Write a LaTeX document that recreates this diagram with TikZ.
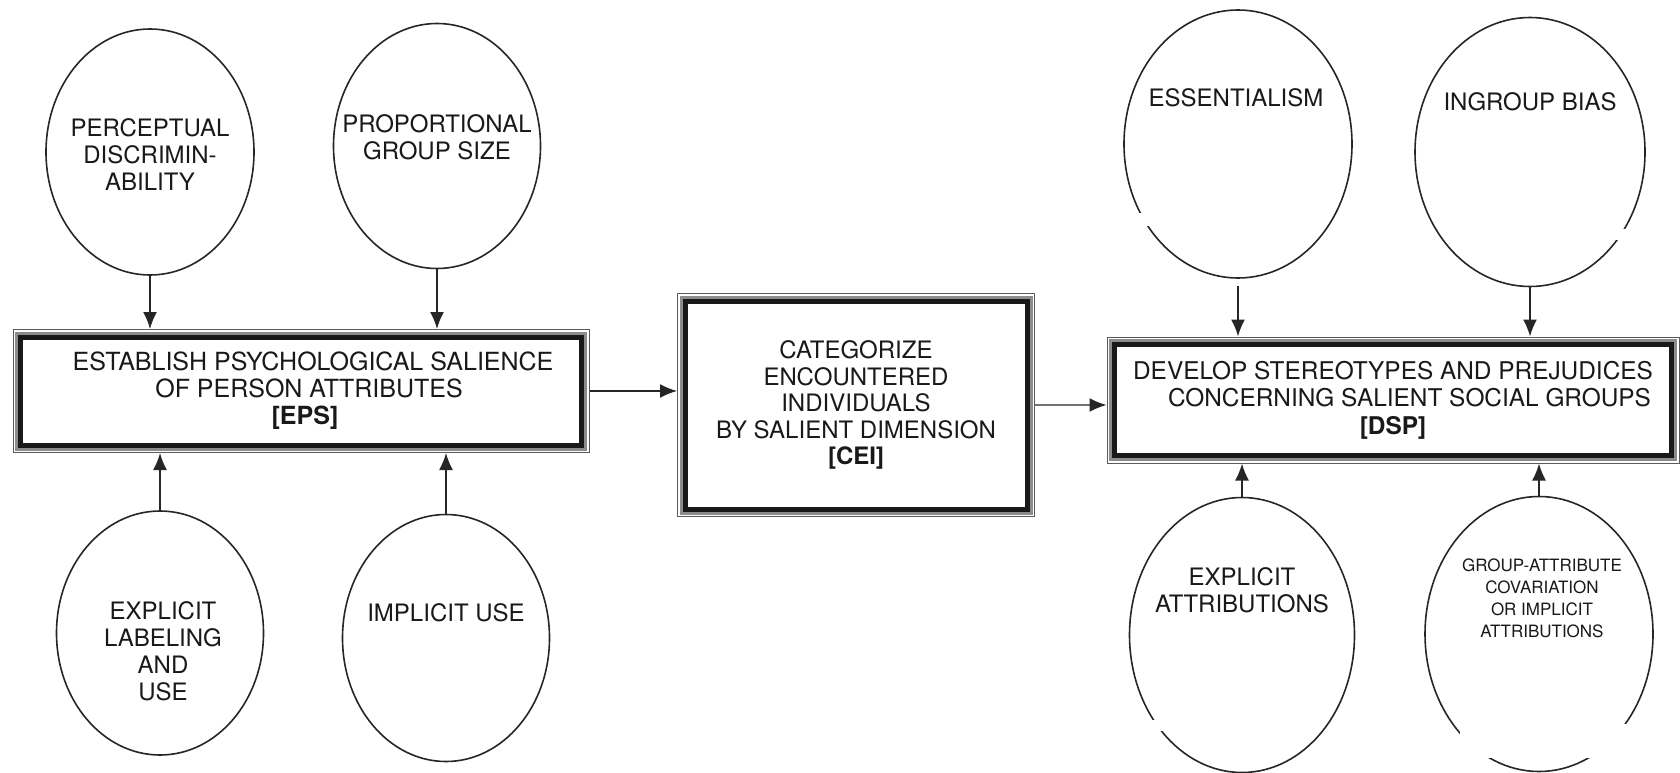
\documentclass[tikz,border=0pt]{standalone}
\usepackage{fontspec}
\setmainfont{TeX Gyre Heros}
\usetikzlibrary{arrows.meta,shapes.geometric}

\begin{document}
\begin{tikzpicture}[x=1pt, y=-1pt, >={Latex[length=17pt, width=14pt]},
  factor/.style={draw=black!85, line width=1.6pt, ellipse, inner sep=0pt, fill=white},
  factortext/.style={align=center, inner sep=0pt, text=black!90, font=\fontsize{24}{27}\selectfont},
  smalltext/.style={align=center, inner sep=0pt, text=black!90, font=\fontsize{17}{22}\selectfont},
  stage/.style={rectangle, draw=black!90, line width=5pt, fill=white, outer sep=8pt, align=center,
    text=black!90, font=\fontsize{25}{27}\selectfont,
    preaction={draw=black!65, line width=16pt},
    preaction={draw=white, line width=14pt},
    preaction={draw=black!45, line width=11pt}},
  link/.style={->, line width=1.6pt, draw=black!85}]
\useasboundingbox (0,0) rectangle (1680,773);
\node[stage, minimum width=561pt, minimum height=108pt] (eps) at (301,391) {\hspace*{24pt}ESTABLISH PSYCHOLOGICAL SALIENCE\\\hspace*{16pt}OF PERSON ATTRIBUTES\\\hspace*{8pt}\textbf{[EPS]}};
\node[stage, minimum width=342pt, minimum height=208pt, font=\fontsize{24}{26.5}\selectfont] (cei) at (856,405) {CATEGORIZE\\ENCOUNTERED\\INDIVIDUALS\\BY SALIENT DIMENSION\\\textbf{[CEI]}};
\node[stage, minimum width=557pt, minimum height=111pt, font=\fontsize{24.4}{27.5}\selectfont] (dsp) at (1393,400) {DEVELOP STEREOTYPES AND PREJUDICES\\\hspace*{33pt}CONCERNING SALIENT SOCIAL GROUPS\\\textbf{[DSP]}};
\node[factor, minimum width=208pt, minimum height=246pt] (per) at (150,152) {};
\node[factor, minimum width=207pt, minimum height=245pt] (pro) at (437,146) {};
\node[factor, minimum width=207pt, minimum height=244pt] (lab) at (160,633) {};
\node[factor, minimum width=207pt, minimum height=247pt] (imp) at (446,638) {};
\node[factor, minimum width=228pt, minimum height=268pt] (ess) at (1238,144) {};
\node[factor, minimum width=230pt, minimum height=269pt] (ing) at (1530,152) {};
\node[factor, minimum width=225pt, minimum height=275pt] (att) at (1242,635) {};
\node[factor, minimum width=228pt, minimum height=275pt] (cov) at (1539,634) {};
\fill[white] (1118,213) rectangle (1300,226);
\fill[white] (1600,229) rectangle (1650,240);
\fill[white] (1140,720) rectangle (1300,731);
\fill[white] (1460,724) rectangle (1628,758);
\node[factortext] (per-text) at (150,155) {PERCEPTUAL\\DISCRIMIN-\\ABILITY};
\node[factortext] (pro-text) at (437,137) {PROPORTIONAL\\GROUP SIZE};
\node[factortext] (lab-text) at (163,651) {EXPLICIT\\LABELING\\AND\\USE};
\node[factortext] (imp-text) at (446,613) {IMPLICIT USE};
\node[factortext] (ess-text) at (1236,98) {ESSENTIALISM};
\node[factortext] (ing-text) at (1530,102) {INGROUP BIAS};
\node[factortext] (att-text) at (1242,590) {EXPLICIT\\ATTRIBUTIONS};
\node[smalltext] (cov-text) at (1542,598) {GROUP-ATTRIBUTE\\COVARIATION\\OR IMPLICIT\\ATTRIBUTIONS};
\draw[link] (per) -- (per |- eps.north);
\draw[link] (pro) -- (pro |- eps.north);
\draw[link] (lab) -- (lab |- eps.south);
\draw[link] (imp) -- (imp |- eps.south);
\draw[link] (eps.east) -- (eps.east -| cei.west);
\draw[link, draw=black!55, -{Latex[length=17pt, width=14pt, color=black!85]}] (cei.east) -- (cei.east -| dsp.west);
\draw[link, shorten <=7pt] (ess) -- (ess |- dsp.north);
\draw[link] (ing) -- (ing |- dsp.north);
\draw[link] (att) -- (att |- dsp.south);
\draw[link] (cov) -- (cov |- dsp.south);
\end{tikzpicture}
\end{document}
